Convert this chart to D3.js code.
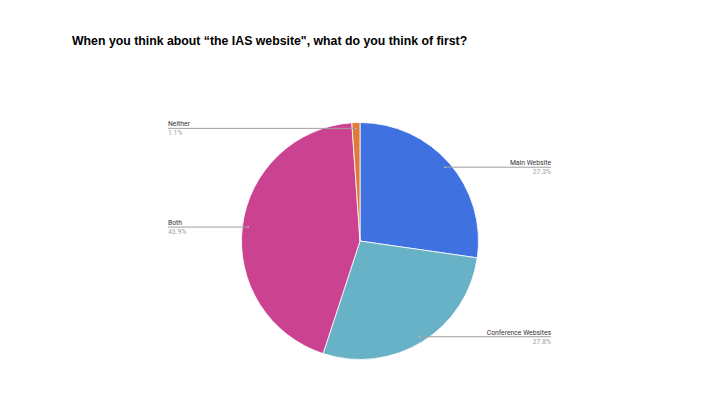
<!DOCTYPE html>
<html>
<head>
<meta charset="utf-8">
<script src="https://cdn.jsdelivr.net/npm/d3@7"></script>
<style>
    body { margin: 0; background: #fff; }
    svg { display: block; }
</style>
</head>
<body>
<svg id="chart" width="720" height="405"></svg>
<script>
// Données
const categories = ['Main Website', 'Conference Websites', 'Both', 'Neither'];
const values = [27.3, 27.8, 43.9, 1.1];
const percentLabels = ['27.3%', '27.8%', '43.9%', '1.1%'];
const colors = ['#3f72e0', '#68b2c7', '#cb4291', '#e0793a'];

const title = 'When you think about \u201cthe IAS website", what do you think of first?';

const svg = d3.select('#chart');
const cx = 360, cy = 241, radius = 118.5;

svg.append('text')
    .attr('x', 72)
    .attr('y', 45)
    .attr('font-family', 'Liberation Sans, Arial, sans-serif')
    .attr('font-weight', 'bold')
    .attr('font-size', 12.3)
    .attr('fill', '#000')
    .text(title);

const slices = categories.map((c, i) => ({ name: c, value: values[i], label: percentLabels[i], color: colors[i] }));

const pie = d3.pie().sort(null).value(d => d.value);
const arc = d3.arc().innerRadius(0).outerRadius(radius);
const arcs = pie(slices);

const plot = svg.append('g').attr('transform', `translate(${cx},${cy})`);

plot.selectAll('path')
    .data(arcs)
    .enter().append('path')
    .attr('d', arc)
    .attr('fill', d => d.data.color)
    .attr('stroke', '#fff')
    .attr('stroke-width', 0.8);

// Lignes de rappel + étiquettes
const leftX = 168, rightX = 551;
const dotR = radius * 0.951;

arcs.forEach(d => {
    const mid = (d.startAngle + d.endAngle) / 2;
    const px = cx + dotR * Math.sin(mid);
    const py = cy - dotR * Math.cos(mid);
    const right = Math.sin(mid) > 0;
    const endX = right ? rightX : leftX;

    svg.append('line')
        .attr('x1', px).attr('y1', py)
        .attr('x2', endX).attr('y2', py)
        .attr('stroke', '#9e9e9e')
        .attr('stroke-width', 1);

    svg.append('circle')
        .attr('cx', px).attr('cy', py)
        .attr('r', 0.9)
        .attr('fill', '#bbb');

    svg.append('text')
        .attr('x', endX)
        .attr('y', py - 2)
        .attr('text-anchor', right ? 'end' : 'start')
        .attr('font-family', 'Roboto, Arial, sans-serif')
        .attr('font-size', 6.8)
        .attr('fill', '#333')
        .text(d.data.name);

    svg.append('text')
        .attr('x', endX)
        .attr('y', py + 7)
        .attr('text-anchor', right ? 'end' : 'start')
        .attr('font-family', 'Roboto, Arial, sans-serif')
        .attr('font-size', 6.8)
        .attr('fill', '#9e9e9e')
        .text(d.data.label);
});
</script>
</body>
</html>
